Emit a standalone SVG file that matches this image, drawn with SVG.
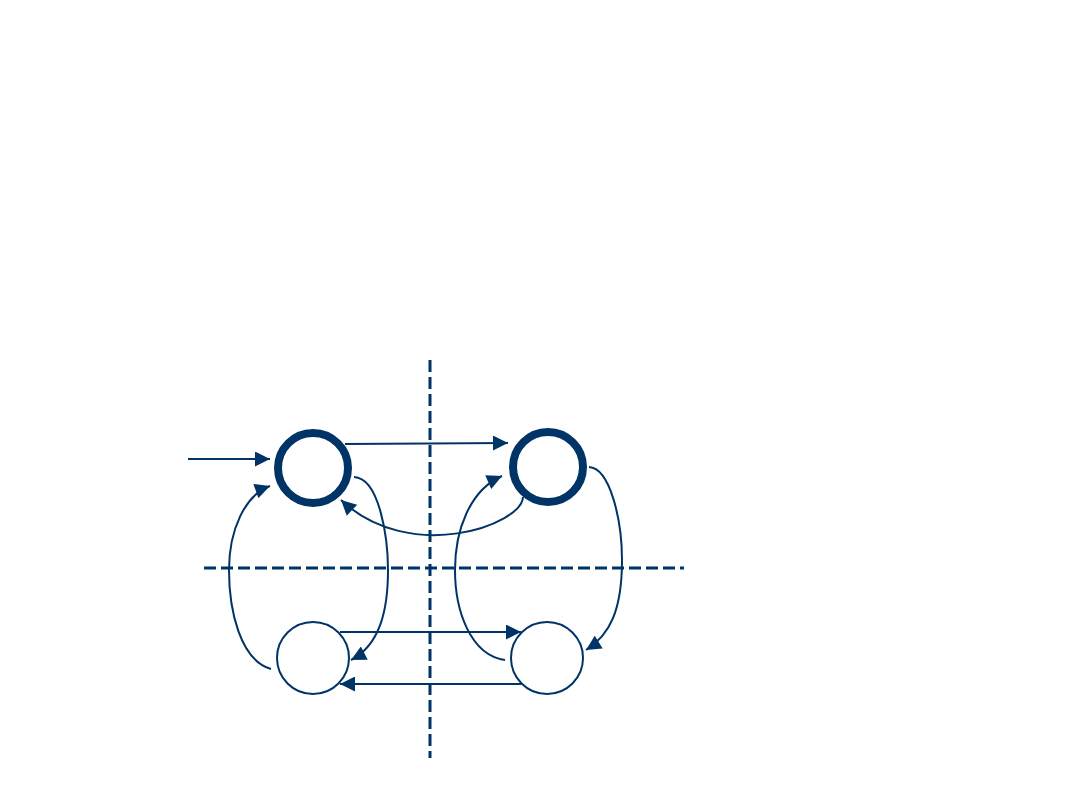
<svg xmlns="http://www.w3.org/2000/svg" width="1080" height="810" viewBox="0 0 1080 810">
<defs>
<style>
.div{stroke:#003366;stroke-width:3;stroke-dasharray:12 5;fill:none}
.acc{fill:#ffffff;stroke:#003366;stroke-width:8}
.st{fill:#ffffff;stroke:#003366;stroke-width:2}
.e{fill:none;stroke:#003366;stroke-width:2}
</style>
<marker id="ah" viewBox="0 0 10 10" refX="10" refY="5" markerWidth="16" markerHeight="15" markerUnits="userSpaceOnUse" orient="auto">
<path d="M0,0 L10,5 L0,10 z" fill="#003366"/>
</marker>
</defs>
<rect width="1080" height="810" fill="#ffffff"/>
<g id="dividers">
<line class="div" x1="430" y1="360" x2="430" y2="758"/>
<line class="div" x1="204" y1="568" x2="684" y2="568"/>
</g>
<g id="connectors">
<line class="e" x1="188" y1="459" x2="270" y2="459" marker-end="url(#ah)"/>
<path class="e" d="M345,444 L508,443" marker-end="url(#ah)"/>
<path class="e" d="M523,497 C522,525 410,565 341,500" marker-end="url(#ah)"/>
<path class="e" d="M354,477 C380,478 388,540 388,570 C388,610 380,645 351,660" marker-end="url(#ah)"/>
<path class="e" d="M271,669 C240,660 229,610 229,570 C229,530 245,495 270,486" marker-end="url(#ah)"/>
<path class="e" d="M340,632 L521,632" marker-end="url(#ah)"/>
<path class="e" d="M521,684 L340,684" marker-end="url(#ah)"/>
<path class="e" d="M505,660 C470,655 455,610 455,570 C455,530 470,490 502,476" marker-end="url(#ah)"/>
<path class="e" d="M589,467 C610,468 622,520 622,560 C622,610 610,635 586,650" marker-end="url(#ah)"/>
</g>
<g id="q0"><circle class="acc" cx="313" cy="468" r="35"/></g>
<g id="q1"><circle class="acc" cx="548" cy="467" r="35"/></g>
<g id="q2"><circle class="st" cx="313" cy="658" r="36"/></g>
<g id="q3"><circle class="st" cx="547" cy="658" r="36"/></g>
</svg>
